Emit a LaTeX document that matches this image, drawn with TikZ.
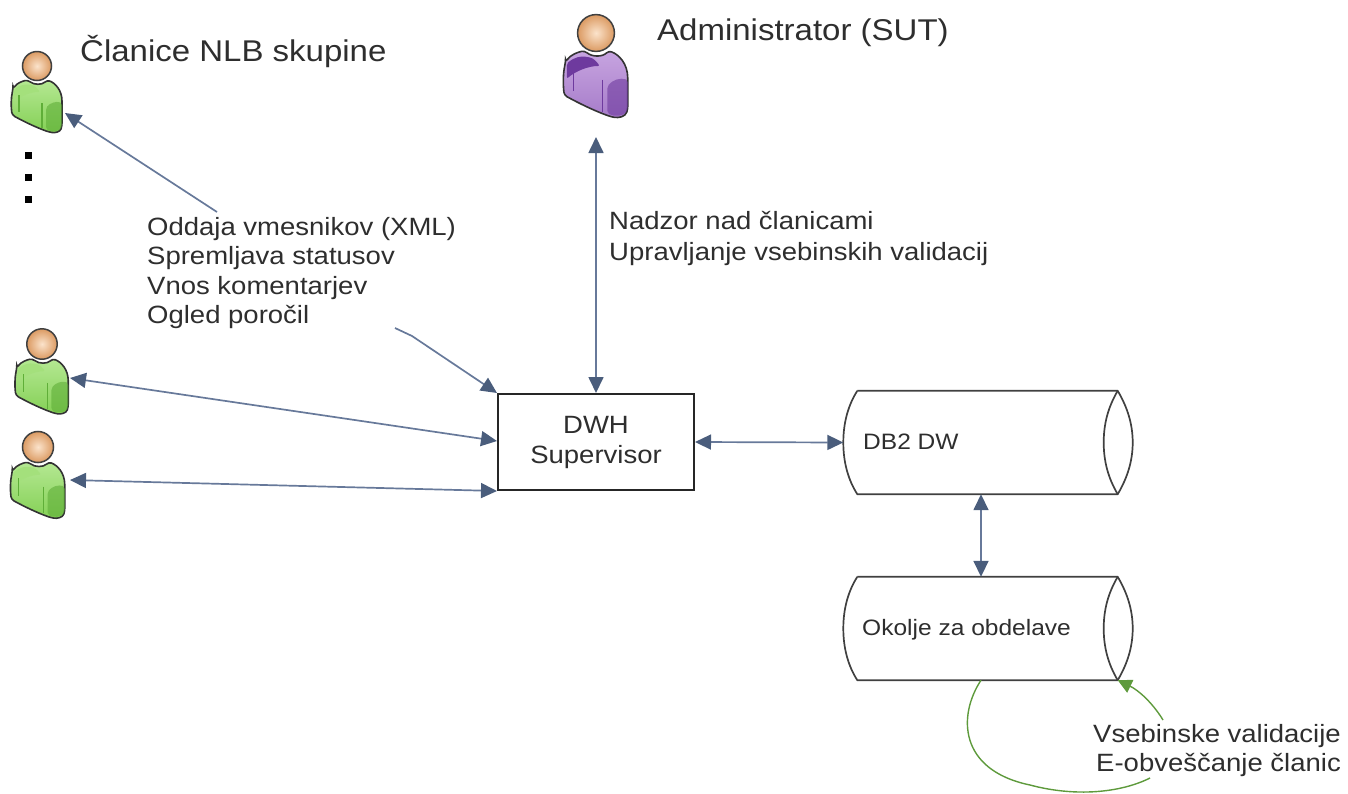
\documentclass[tikz,border=0pt]{standalone}
\usepackage{fontspec}
\setmainfont[FakeStretch=1.1]{Liberation Sans}
\usetikzlibrary{arrows.meta,calc}
\definecolor{linkc}{HTML}{67799A}
\definecolor{headc}{HTML}{4A5D7C}
\definecolor{greenc}{HTML}{5E9A3C}
\definecolor{txt}{HTML}{2E2E2E}
\definecolor{gmid}{HTML}{84D055}
\definecolor{glight}{HTML}{B5E893}
\definecolor{gdark}{HTML}{5FAE38}
\definecolor{gband}{HTML}{A4E07C}
\definecolor{pmid}{HTML}{A67CC9}
\definecolor{plight}{HTML}{C7A4E0}
\definecolor{pdark}{HTML}{6E3A9E}
\definecolor{headlight}{HTML}{FBE3CB}
\definecolor{headdark}{HTML}{DB9A62}
\tikzset{
  link/.style={draw=linkc,line width=1.7pt,{Triangle[length=16pt,width=15pt,fill=headc,color=headc]}-{Triangle[length=16pt,width=15pt,fill=headc,color=headc]}},
  linkone/.style={draw=linkc,line width=1.7pt,-{Triangle[length=16pt,width=15pt,fill=headc,color=headc]}},
  loopline/.style={draw=greenc,line width=1.4pt},
  label/.style={inner sep=0pt,anchor=base west,text=txt,font=\fontsize{25}{29.5}\selectfont,align=left},
  title/.style={inner sep=0pt,anchor=base west,text=txt,font=\fontsize{30}{34}\selectfont},
  inbox/.style={inner sep=0pt,text=txt,font=\fontsize{25}{30}\selectfont,align=center},
  incyl/.style={inner sep=0pt,anchor=base west,text=txt,font=\fontsize{22.3}{24}\selectfont},
  area/.style={draw=none,inner sep=0pt,minimum width=289pt,minimum height=103pt},
  cylline/.style={draw=black!75,line width=1.7pt}
}
% #1 head centre, #2 scale, #3 dark, #4 mid, #5 light, #6 shoulder band
\newcommand{\personfig}[6]{%
  \begin{scope}[shift={#1},scale=#2]
    \shade[top color=#5,bottom color=#4,draw=black!80,line width=1.6pt,rounded corners=3pt]
      (-24,23) .. controls (-20,17) and (-14,15) .. (-9,14)
      .. controls (-3,19) and (5,19) .. (10,14)
      .. controls (18,17) and (25,24) .. (25,38)
      -- (25,60) .. controls (23,66) and (18,67) .. (12,66)
      .. controls (-2,61) and (-14,55) .. (-25,49)
      .. controls (-26,40) and (-26,32) .. (-24,23) -- cycle;
    \fill[#6,rounded corners=2pt]
      (-23,24) .. controls (-17,19) and (-12,18) .. (-6,19)
      .. controls (-2,20) and (0,22) .. (3,26)
      .. controls (-6,26) and (-16,30) .. (-23,36) -- cycle;
    \fill[#3,opacity=.6,rounded corners=2pt]
      (25,37) .. controls (19,35) and (13,37) .. (9,42) -- (9,63)
      .. controls (14,66) and (22,66) .. (25,60) -- cycle;
    \draw[#3,line width=1.2pt] (-18,29) -- (-18,46) (5,37) -- (5,62);
    \shade[inner color=headlight,outer color=headdark] (0,0) circle (14.5);
    \draw[black!75,line width=1.5pt] (0,0) circle (14.5);
  \end{scope}%
}
\begin{document}
\begin{tikzpicture}[x=1pt,y=-1pt]
\useasboundingbox (0,0) rectangle (1348,793);

% people
\personfig{(37,66)}{1}{gdark}{gmid}{glight}{gband}
\personfig{(42,344)}{1.05}{gdark}{gmid}{glight}{gband}
\personfig{(38,447)}{1.07}{gdark}{gmid}{glight}{gband}
\personfig{(596,33)}{1.27}{pdark}{pmid}{plight}{pdark}

\coordinate (member1) at (65,113);
\coordinate (member2) at (70,378);
\coordinate (member3) at (70,480);
\coordinate (admin) at (596,137);
\coordinate (listtop) at (217,212);
\coordinate (listbottom) at (395,328);
\coordinate (listbend) at (412,336);
\coordinate (loopend) at (1150,778);
\coordinate (loopstart) at (1163,720);

% dots
\foreach \y in {155,177,199}
  \fill[black] (24.5,\y-3.5) rectangle (31.5,\y+3.5);

% box
\node[draw=black!85,line width=2pt,minimum width=196pt,minimum height=96pt,inner sep=0pt] (dwh) at (596,442) {};
\node[inbox] (dwhtext) at (596,442) {DWH\\Supervisor};

% cylinders
\node[area] (db2) at (988,442.5) {};
\node[area] (okolje) at (988,628.5) {};
\foreach \c in {db2,okolje}{
  \draw[cylline,line join=round]
    ($(\c.north west)+(14,0)$) -- ($(\c.north east)+(-15,0)$)
    .. controls +(10,17) and +(0,-18) .. (\c.east)
    .. controls +(0,18) and +(10,-17) .. ($(\c.south east)+(-15,0)$)
    -- ($(\c.south west)+(14,0)$)
    .. controls +(-9,-14) and +(0,20) .. (\c.west)
    .. controls +(0,-20) and +(-9,14) .. ($(\c.north west)+(14,0)$);
  \draw[cylline]
    ($(\c.north east)+(-15,0)$) .. controls +(-10,17) and +(0,-18) .. ($(\c.east)+(-29,0)$)
    .. controls +(0,18) and +(-10,-17) .. ($(\c.south east)+(-15,0)$);
}
\node[incyl] (db2text) at (863,449) {DB2 DW};
\node[incyl] (okoljetext) at (862,635) {Okolje za obdelave};

% texts
\node[title] (t1) at (80,61) {Članice NLB skupine};
\node[title] (t2) at (657,40) {Administrator (SUT)};
\node[label,anchor=north west] (list) at (147,217) {Oddaja vmesnikov (XML)\\Spremljava statusov\\Vnos komentarjev\\Ogled poročil};
\node[label,anchor=north west] (nadzor) at (609,211) {Nadzor nad članicami\\[1.5pt]Upravljanje vsebinskih validacij};
\node[label,anchor=north east,align=right] (vseb) at (1341,724) {Vsebinske validacije\\E-obveščanje članic};

% connectors
\draw[linkone] (listtop) -- (member1);
\draw[linkone] (listbottom) -- (listbend) -- (dwh.north west);
\draw[link] (member2) -- ($(dwh.west)+(0,-1)$);
\draw[link] (member3) -- (dwh.south west);
\draw[link] (admin) -- (dwh.north -| admin);
\draw[link] (dwh.east) -- (db2.west);
\draw[link] (db2.south -| 981,0) -- (okolje.north -| 981,0);
\draw[loopline] (okolje.south -| 981,0) .. controls (958,715) and (958,770) .. (1030,785)
  .. controls (1075,797) and (1120,793) .. (loopend);
\draw[loopline,-{Triangle[length=14pt,width=14pt,fill=greenc,color=greenc]}] (loopstart) .. controls (1152,702) and (1138,690) .. ($(okolje.south east)+(-15,0)$);
\end{tikzpicture}
\end{document}
